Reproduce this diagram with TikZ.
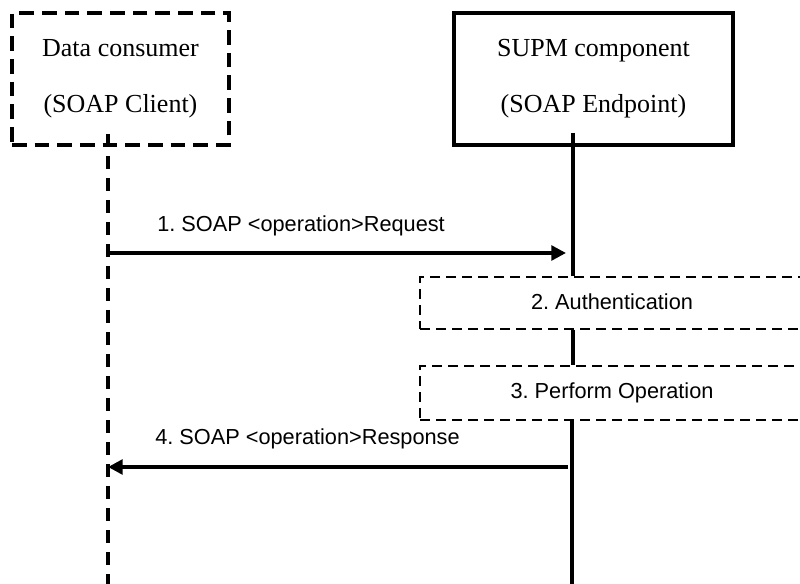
\documentclass[tikz,border=0pt]{standalone}
\usepackage{fontspec}
\setmainfont{Liberation Serif}
\newfontfamily\labelfont{Liberation Sans}
\usetikzlibrary{arrows.meta}
\frenchspacing
\tikzset{
  actorbox/.style={draw, rectangle, line width=2.6pt, align=center, inner sep=0pt,
    font=\fontsize{19.5}{42}\selectfont},
  stepbox/.style={draw, rectangle, line width=2.1pt, dash pattern=on 7.5pt off 4.5pt,
    inner sep=0pt, font=\labelfont\fontsize{16.3}{18}\selectfont},
  msglabel/.style={anchor=west, inner sep=0pt, font=\labelfont\fontsize{16.3}{18}\selectfont},
  lifedash/.style={line width=2.6pt, dash pattern=on 10pt off 6.5pt},
  lifesolid/.style={line width=2.6pt},
  msg/.style={line width=2.6pt, -{Triangle[length=11pt,width=11pt]}},
}
\begin{document}
\begin{tikzpicture}[x=0.75pt,y=-0.75pt]
\useasboundingbox (0,0) rectangle (800,584);
% actors
\node[actorbox, dash pattern=on 11pt off 6pt, minimum width=162.75pt, minimum height=99pt]
  (client) at (120.5,79) {\raisebox{-1.5pt}{Data consumer}\\\raisebox{-1.5pt}{(SOAP Client)}};
\node[actorbox, minimum width=209.25pt, minimum height=99pt]
  (server) at (593.5,79) {SUPM component\\(SOAP Endpoint)};
% steps
\node[stepbox, minimum width=288pt, minimum height=39pt] (auth) at (612,303) {\raisebox{1.5pt}{2. Authentication}};
\node[stepbox, minimum width=288pt, minimum height=40.5pt] (perf) at (612,393) {\raisebox{3.5pt}{3. Perform Operation}};
% lifeline coordinates
\coordinate (cltop) at (108,134);
\coordinate (clbot) at (108,590);
\coordinate (srtop) at (573,133);
\coordinate (srbot) at (572,590);
\coordinate (a1s) at (108,253);
\coordinate (a1e) at (566,253);
\coordinate (a4s) at (568,467);
\coordinate (a4e) at (108,467);
% lifelines
\draw[lifedash] (cltop) -- (clbot);
\draw[lifesolid] (srtop) -- (srtop |- auth.north);
\draw[lifesolid] (srtop |- auth.south) -- (srtop |- perf.north);
\draw[lifesolid] (srbot |- perf.south) -- (srbot);
% messages
\draw[msg] (a1s) -- (a1e);
\draw[msg] (a4s) -- (a4e);
\node[msglabel] (m1) at (157,226) {1. SOAP <operation>Request};
\node[msglabel] (m4) at (155,439) {4. SOAP <operation>Response};
\end{tikzpicture}
\end{document}
